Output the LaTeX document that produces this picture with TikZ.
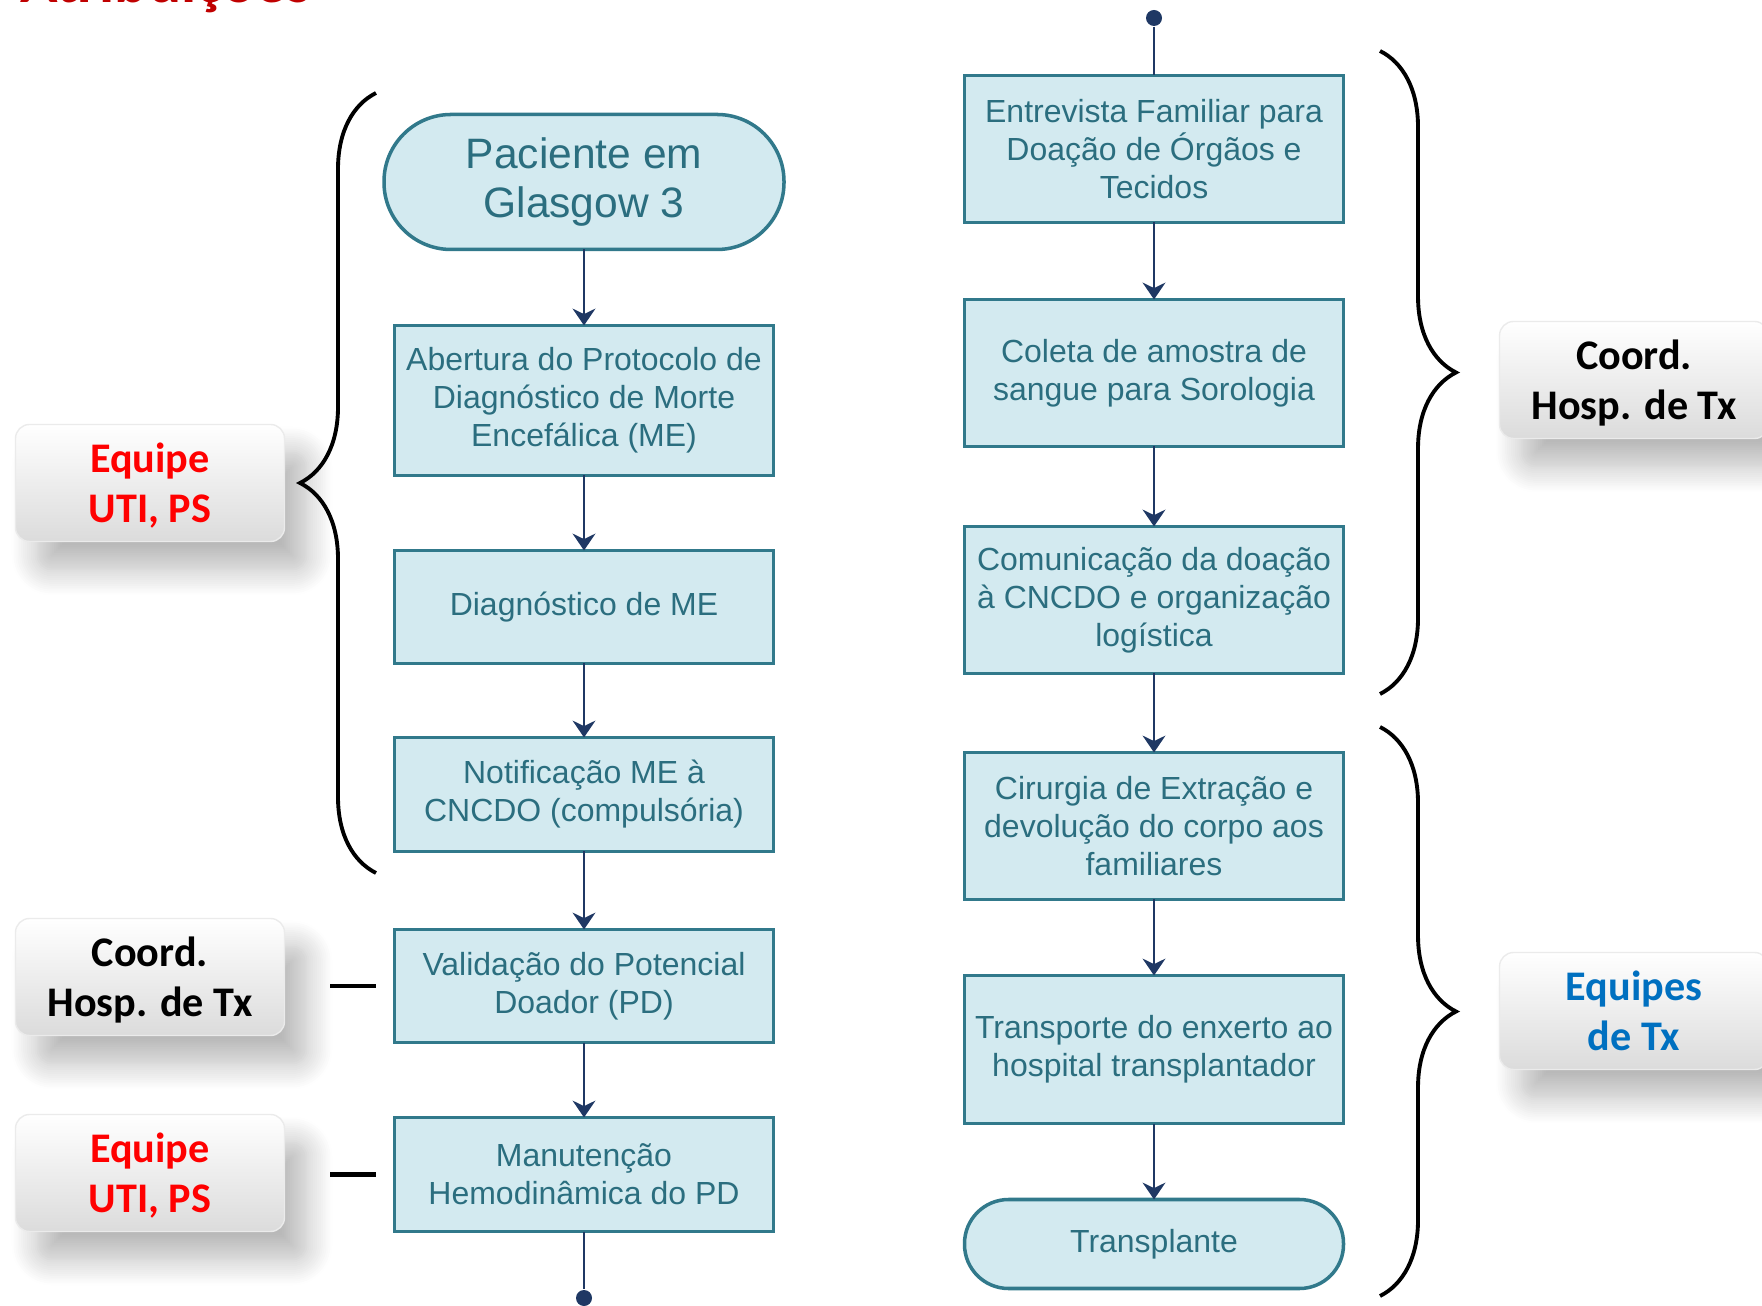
\documentclass[tikz,border=0pt]{standalone}
\usepackage{fontspec}
\setmainfont{Liberation Sans}
\newfontfamily\calibri{Carlito}
\usetikzlibrary{arrows.meta, positioning, decorations.pathreplacing, shadows.blur}

\definecolor{boxfill}{HTML}{D3EAF0}
\definecolor{boxline}{HTML}{31798B}
\definecolor{boxtext}{HTML}{2B6E7F}
\definecolor{flowline}{HTML}{1F3864}
\definecolor{titlered}{HTML}{C00000}
\definecolor{labred}{HTML}{FF0000}
\definecolor{labblue}{HTML}{0070C0}

\begin{document}
\begin{tikzpicture}
  % Parameters
  \def\W{17.62}      % page width
  \def\H{13.05}      % page height
  \def\xl{5.84}      % left column
  \def\xr{11.54}     % right column

  % Styles
  \tikzset{
    box/.style={draw=boxline,fill=boxfill,line width=1pt,minimum width=3.79cm,
      inner sep=0pt,outer sep=0pt,align=center,text=boxtext,font=\fontsize{9.1}{10.8}\selectfont},
    terminal/.style={box,rounded corners=#1},
    flow/.style={-{Stealth[length=4.8pt,width=6.5pt]},draw=flowline,line width=0.6pt},
    dot/.style={circle,fill=flowline,inner sep=0pt,minimum size=0.16cm},
    tag/.style={rounded corners=0.14cm,minimum width=2.69cm,minimum height=1.17cm,
      draw=black!8,line width=0.4pt,text depth=0pt,
      top color=white,middle color=white!98!black,bottom color=black!14,
      blur shadow={shadow xshift=0.22cm,shadow yshift=-0.28cm,shadow blur radius=0.26cm,
        shadow blur steps=14,shadow opacity=28},
      align=center,font=\calibri\bfseries\fontsize{12}{14.2}\selectfont},
    brace/.style={decorate,decoration={brace,amplitude=0.76cm},line width=1.1pt},
    stub/.style={line width=1.2pt}
  }

  \useasboundingbox (0,0) rectangle (\W,\H);
  \clip (0,0) rectangle (\W,\H);

  % Title (cut by the top edge)
  \node[anchor=base west,inner sep=0pt,text=titlered,font=\calibri\bfseries\fontsize{17.6}{20}\selectfont]
    (titulo) at (0.2,\H-0.03) {Atribuições};

  % Left column
  \node[terminal=0.67cm,minimum height=1.35cm,minimum width=4.0cm,font=\fontsize{12.1}{14.1}\selectfont]
    (pac) at (\xl,11.23) {Paciente em\\Glasgow 3};
  \node[box,minimum height=1.50cm,below=0.76cm of pac] (abe)
    {Abertura do Protocolo de\\Diagnóstico de Morte\\Encefálica (ME)};
  \node[box,minimum height=1.13cm,below=0.75cm of abe] (dia) {Diagnóstico de ME};
  \node[box,minimum height=1.14cm,below=0.74cm of dia] (not)
    {Notificação ME à\\CNCDO (compulsória)};
  \node[box,minimum height=1.13cm,below=0.78cm of not] (val)
    {Validação do Potencial\\Doador (PD)};
  \node[box,minimum height=1.14cm,below=0.75cm of val] (man)
    {Manutenção\\Hemodinâmica do PD};
  \node[dot] (fimesq) at (\xl,0.07) {};

  \draw[flow] (pac) -- (abe);
  \draw[flow] (abe) -- (dia);
  \draw[flow] (dia) -- (not);
  \draw[flow] (not) -- (val);
  \draw[flow] (val) -- (man);
  \draw[flowline,line width=0.6pt] (man) -- (fimesq);

  % Right column
  \node[dot] (inidir) at (\xr,12.87) {};
  \node[box,minimum height=1.47cm] (ent) at (\xr,11.56)
    {Entrevista Familiar para\\Doação de Órgãos e\\Tecidos};
  \node[box,minimum height=1.47cm,below=0.77cm of ent] (col)
    {Coleta de amostra de\\sangue para Sorologia};
  \node[box,minimum height=1.47cm,below=0.80cm of col] (com)
    {Comunicação da doação\\à CNCDO e organização\\logística};
  \node[box,minimum height=1.47cm,below=0.79cm of com] (cir)
    {Cirurgia de Extração e\\devolução do corpo aos\\familiares};
  \node[box,minimum height=1.48cm,below=0.76cm of cir] (tra)
    {Transporte do enxerto ao\\hospital transplantador};
  \node[terminal=0.44cm,minimum height=0.89cm,below=0.76cm of tra] (tpl) {Transplante};

  \draw[flowline,line width=0.6pt] (inidir) -- (ent);
  \draw[flow] (ent) -- (col);
  \draw[flow] (col) -- (com);
  \draw[flow] (com) -- (cir);
  \draw[flow] (cir) -- (tra);
  \draw[flow] (tra) -- (tpl);

  % Braces
  \draw[brace] (3.76,4.32) -- (3.76,12.12);
  \draw[brace] (13.80,12.54) -- (13.80,6.11);
  \draw[brace] (13.80,5.78) -- (13.80,0.09);

  % Team tags
  \node[tag,text=labred] (uti1) at (1.50,8.22) {Equipe\\UTI, PS};
  \node[tag] (coord1) at (1.50,3.28) {Coord.\\Hosp. de Tx};
  \node[tag,text=labred] (uti2) at (1.50,1.32) {Equipe\\UTI, PS};
  \node[tag] (coord2) at (16.34,9.25) {Coord.\\Hosp. de Tx};
  \node[tag,text=labblue] (eqtx) at (16.34,2.94) {Equipes\\de Tx};

  \draw[stub,shorten <=0.45cm,shorten >=0.19cm] (coord1.east|-val.west) -- (val.west);
  \draw[stub,shorten <=0.45cm,shorten >=0.19cm] (uti2.east|-man.west) -- (man.west);

\end{tikzpicture}
\end{document}
